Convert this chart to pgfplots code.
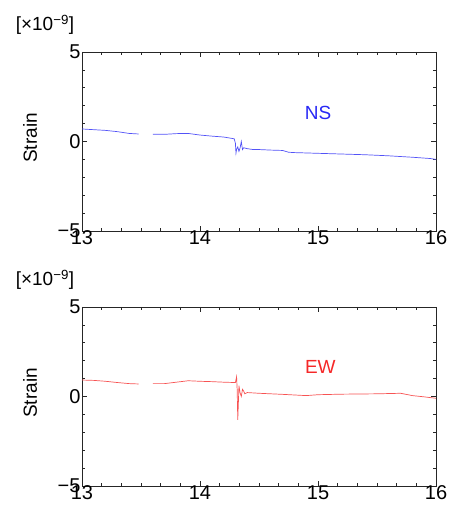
\documentclass[border=0pt]{standalone}
\usepackage{fontspec}
\setmainfont{Liberation Sans}
\usepackage{pgfplots}
\pgfplotsset{compat=1.18}

\definecolor{nsblue}{RGB}{40,40,245}
\definecolor{ewred}{RGB}{245,40,40}

\pgfplotsset{
  strainaxis/.style={
    scale only axis, width=354pt, height=179pt,
    xmin=13, xmax=16, ymin=-5, ymax=5,
    xtick={13,14,15,16}, ytick={-5,0,5},
    yticklabels={−5,0,5},
    minor x tick num=5, minor y tick num=4,
    tick align=inside, major tick length=5pt, minor tick length=3pt,
    axis line style={line width=0.9pt, black!85},
    every tick/.style={black!85, line width=0.6pt},
    /pgf/number format/assume math mode=true,
    tick label style={font=\fontsize{20}{22}\selectfont},
    xticklabel style={yshift=4pt},
    yticklabel style={xshift=2pt},
    ylabel={Strain},
    every axis y label/.style={at={(axis description cs:-0.147,0.52)}, rotate=90, anchor=center, font=\fontsize{19}{21}\selectfont},
    unbounded coords=jump,
  },
}

\begin{document}
\begin{tikzpicture}
\begin{axis}[strainaxis, at={(0,0)}, name=top]
\addplot[nsblue!80, line width=0.7pt] coordinates {
(13.00,0.70) (13.10,0.66) (13.20,0.62) (13.30,0.55) (13.40,0.45) (13.48,0.42)
(13.54,nan)
(13.60,0.40) (13.70,0.40) (13.80,0.44) (13.90,0.45) (14.00,0.36) (14.10,0.30)
(14.20,0.25) (14.29,0.15) (14.30,-0.10) (14.305,-0.65) (14.31,-0.45) (14.32,-0.30)
(14.33,-0.55) (14.34,-0.35) (14.35,0.00) (14.36,-0.45) (14.37,-0.35) (14.40,-0.40)
(14.45,-0.45) (14.50,-0.45) (14.60,-0.48) (14.70,-0.50) (14.75,-0.60) (14.80,-0.62)
(14.90,-0.64) (15.00,-0.66) (15.20,-0.70) (15.40,-0.74) (15.60,-0.80) (15.80,-0.88)
(15.95,-0.95) (16.00,-1.00)
};
\node[text=nsblue, font=\fontsize{19}{21}\selectfont] at (axis cs:15.0,1.6) {NS};
\end{axis}

\begin{axis}[strainaxis, at={(0,-255pt)}, name=bot]
\addplot[ewred!80, line width=0.7pt] coordinates {
(13.00,0.92) (13.10,0.90) (13.20,0.85) (13.30,0.78) (13.40,0.72) (13.48,0.70)
(13.54,nan)
(13.60,0.72) (13.70,0.72) (13.80,0.80) (13.90,0.88) (14.00,0.85) (14.10,0.83)
(14.20,0.80) (14.30,0.78) (14.31,1.10) (14.315,0.40) (14.32,-1.30) (14.325,-0.40)
(14.33,0.60) (14.34,0.20) (14.35,0.00) (14.36,0.40) (14.37,0.30) (14.38,0.15)
(14.40,0.22) (14.50,0.18) (14.70,0.12) (14.90,0.05) (15.00,0.10) (15.20,0.13)
(15.50,0.15) (15.70,0.18) (15.80,0.05) (15.90,-0.02) (16.00,-0.10)
};
\node[text=ewred, font=\fontsize{19}{21}\selectfont] at (axis cs:15.02,1.65) {EW};
\end{axis}
\node[font=\fontsize{19}{21}\selectfont] at ([xshift=-37pt,yshift=27pt]top.north west) {[×10\textsuperscript{−9}]};
\node[font=\fontsize{19}{21}\selectfont] at ([xshift=-37pt,yshift=27pt]bot.north west) {[×10\textsuperscript{−9}]};
\path[use as bounding box] (-82pt,-279pt) rectangle (367pt,231pt);
\end{tikzpicture}
\end{document}
